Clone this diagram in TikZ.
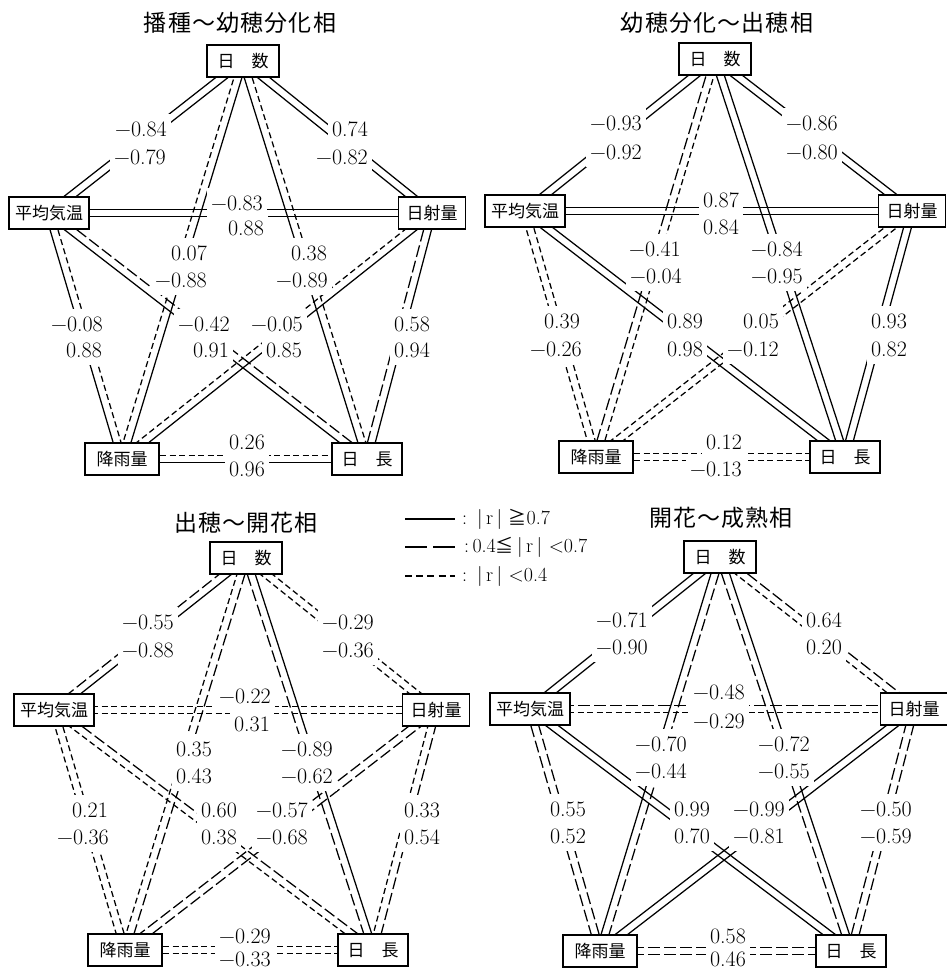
\documentclass[tikz,border=0pt]{standalone}
\usepackage{fontspec}
\newfontfamily\cjk{Noto Sans CJK JP}
\usetikzlibrary{calc}
\pgfdeclarelayer{bg}
\pgfdeclarelayer{lines}
\pgfsetlayers{bg,lines,main}
\newcommand\nf{\fontsize{22}{22}\selectfont\addfontfeatures{FakeStretch=0.86,FakeBold=0.4}}
\newcommand\lf{\fontsize{20}{20}\selectfont\addfontfeatures{FakeStretch=0.86,FakeBold=0.4}}
% double connector: #1 left node, #2 right node, #3 style of upper line, #4 style of lower line
\newcommand\pairln[4]{%
  \begin{pgfonlayer}{lines}
    \draw[#3] ($(#1)!3.8pt!90:(#2)$) -- ($(#2)!3.8pt!-90:(#1)$);
    \draw[#4] ($(#1)!3.8pt!-90:(#2)$) -- ($(#2)!3.8pt!90:(#1)$);
  \end{pgfonlayer}}
\tikzset{
  box/.style={draw, line width=1.5pt, fill=white, minimum height=32pt, inner xsep=0pt,
              font=\cjk\fontsize{17}{17}\selectfont},
  bN/.style={box, minimum width=72pt},
  bT/.style={box, minimum width=80pt},
  bS/.style={box, minimum width=67pt},
  bR/.style={box, minimum width=74pt},
  bL/.style={box, minimum width=70pt},
  lab/.style={fill=white, inner xsep=4.5pt, inner ysep=0pt, minimum height=30pt, font=\nf},
  ttl/.style={font=\cjk\fontsize{23}{23}\selectfont\addfontfeatures{LetterSpace=5}},
  c1/.style={line width=1.25pt},
  c2/.style={line width=1.25pt, dash pattern=on 12pt off 4pt},
  c3/.style={line width=1.25pt, dash pattern=on 6pt off 3.5pt},
  leg/.style={anchor=west, inner sep=0pt, font=\lf},
}
\begin{document}
\begin{tikzpicture}[x=1pt,y=-1pt]
\begin{pgfonlayer}{bg}
  \fill[white] (0,0) rectangle (947,969);
\end{pgfonlayer}
\useasboundingbox (0,0) rectangle (947,969);

% ================= Panel 1 =================
\node[ttl] (ttl1) at (240,23) {播種～幼穂分化相};
\node[bN] (N1) at (243,61) {日　数};
\node[bT] (T1) at (49,213) {平均気温};
\node[bS] (S1) at (432,213) {日射量};
\node[bR] (R1) at (122,459) {降雨量};
\node[bL] (L1) at (367,459) {日　長};
\pairln{T1}{N1}{c1}{c1}
\pairln{N1}{S1}{c1}{c1}
\pairln{T1}{S1}{c1}{c1}
\pairln{R1}{N1}{c3}{c1}
\pairln{N1}{L1}{c3}{c1}
\pairln{T1}{R1}{c3}{c1}
\pairln{L1}{S1}{c2}{c1}
\pairln{T1}{L1}{c2}{c1}
\pairln{R1}{S1}{c3}{c1}
\pairln{R1}{L1}{c3}{c1}
\node[lab] (p1a1) at (141,129) {−0.84};
\node[lab] (p1a2) at (140,157) {−0.79};
\node[lab] (p1b1) at (350,129) {0.74};
\node[lab] (p1b2) at (342,157) {−0.82};
\node[lab] (p1c1) at (237,203) {−0.83};
\node[lab] (p1c2) at (246,228) {0.88};
\node[lab] (p1d1) at (189,253) {0.07};
\node[lab] (p1d2) at (181,280) {−0.88};
\node[lab] (p1e1) at (309,253) {0.38};
\node[lab] (p1e2) at (302,280) {−0.89};
\node[lab] (p1f1) at (77,324) {−0.08};
\node[lab] (p1f2) at (84,350) {0.88};
\node[lab] (p1g1) at (412,324) {0.58};
\node[lab] (p1g2) at (412,350) {0.94};
\node[lab] (p1h1) at (204,324) {−0.42};
\node[lab] (p1h2) at (211,350) {0.91};
\node[lab] (p1i1) at (277,324) {−0.05};
\node[lab] (p1i2) at (284,350) {0.85};
\node[lab] (p1j1) at (247,442) {0.26};
\node[lab] (p1j2) at (247,469) {0.96};

% ================= Panel 2 =================
\node[ttl] (ttl2) at (717,23) {幼穂分化～出穂相};
\node[bN] (N2) at (715,59) {日　数};
\node[bT] (T2) at (525,211) {平均気温};
\node[bS] (S2) at (912,211) {日射量};
\node[bR] (R2) at (596,457) {降雨量};
\node[bL] (L2) at (845,457) {日　長};
\pairln{T2}{N2}{c1}{c1}
\pairln{N2}{S2}{c1}{c1}
\pairln{T2}{S2}{c1}{c1}
\pairln{R2}{N2}{c2}{c3}
\pairln{N2}{L2}{c1}{c1}
\pairln{T2}{R2}{c3}{c3}
\pairln{L2}{S2}{c1}{c1}
\pairln{T2}{L2}{c1}{c1}
\pairln{R2}{S2}{c3}{c3}
\pairln{R2}{L2}{c3}{c3}
\node[lab] (p2a1) at (616,123) {−0.93};
\node[lab] (p2a2) at (616,152) {−0.92};
\node[lab] (p2b1) at (812,123) {−0.86};
\node[lab] (p2b2) at (812,152) {−0.80};
\node[lab] (p2c1) at (721,200) {0.87};
\node[lab] (p2c2) at (721,227) {0.84};
\node[lab] (p2d1) at (655,249) {−0.41};
\node[lab] (p2d2) at (656,276) {−0.04};
\node[lab] (p2e1) at (777,249) {−0.84};
\node[lab] (p2e2) at (777,276) {−0.95};
\node[lab] (p2f1) at (562,321) {0.39};
\node[lab] (p2f2) at (556,349) {−0.26};
\node[lab] (p2g1) at (889,321) {0.93};
\node[lab] (p2g2) at (889,349) {0.82};
\node[lab] (p2h1) at (685,321) {0.89};
\node[lab] (p2h2) at (685,349) {0.98};
\node[lab] (p2i1) at (761,321) {0.05};
\node[lab] (p2i2) at (753,349) {−0.12};
\node[lab] (p2j1) at (724,442) {0.12};
\node[lab] (p2j2) at (716,469) {−0.13};

% ================= Panel 3 =================
\node[ttl] (ttl3) at (246,523) {出穂～開花相};
\node[bN] (N3) at (246,558) {日　数};
\node[bT] (T3) at (54,710) {平均気温};
\node[bS] (S3) at (436,710) {日射量};
\node[bR] (R3) at (125,950) {降雨量};
\node[bL] (L3) at (373,950) {日　長};
\pairln{T3}{N3}{c2}{c1}
\pairln{N3}{S3}{c3}{c3}
\pairln{T3}{S3}{c3}{c3}
\pairln{R3}{N3}{c3}{c2}
\pairln{N3}{L3}{c1}{c2}
\pairln{T3}{R3}{c3}{c3}
\pairln{L3}{S3}{c3}{c2}
\pairln{T3}{L3}{c2}{c3}
\pairln{R3}{S3}{c2}{c2}
\pairln{R3}{L3}{c3}{c3}
\node[lab] (p3a1) at (148,622) {−0.55};
\node[lab] (p3a2) at (148,650) {−0.88};
\node[lab] (p3b1) at (348,622) {−0.29};
\node[lab] (p3b2) at (348,650) {−0.36};
\node[lab] (p3c1) at (245,696) {−0.22};
\node[lab] (p3c2) at (252,724) {0.31};
\node[lab] (p3d1) at (194,749) {0.35};
\node[lab] (p3d2) at (194,776) {0.43};
\node[lab] (p3e1) at (307,749) {−0.89};
\node[lab] (p3e2) at (307,776) {−0.62};
\node[lab] (p3f1) at (90,810) {0.21};
\node[lab] (p3f2) at (83,837) {−0.36};
\node[lab] (p3g1) at (422,810) {0.33};
\node[lab] (p3g2) at (422,837) {0.54};
\node[lab] (p3h1) at (219,810) {0.60};
\node[lab] (p3h2) at (219,837) {0.38};
\node[lab] (p3i1) at (282,810) {−0.57};
\node[lab] (p3i2) at (282,837) {−0.68};
\node[lab] (p3j1) at (245,936) {−0.29};
\node[lab] (p3j2) at (245,959) {−0.33};

% ================= Panel 4 =================
\node[ttl] (ttl4) at (721,518) {開花～成熟相};
\node[bN] (N4) at (720,557) {日　数};
\node[bT] (T4) at (530,709) {平均気温};
\node[bS] (S4) at (914,709) {日射量};
\node[bR] (R4) at (600,951) {降雨量};
\node[bL] (L4) at (851,951) {日　長};
\pairln{T4}{N4}{c1}{c1}
\pairln{N4}{S4}{c2}{c3}
\pairln{T4}{S4}{c2}{c3}
\pairln{R4}{N4}{c1}{c2}
\pairln{N4}{L4}{c1}{c2}
\pairln{T4}{R4}{c2}{c2}
\pairln{L4}{S4}{c2}{c2}
\pairln{T4}{L4}{c1}{c1}
\pairln{R4}{S4}{c1}{c1}
\pairln{R4}{L4}{c2}{c2}
\node[lab] (p4a1) at (622,620) {−0.71};
\node[lab] (p4a2) at (622,647) {−0.90};
\node[lab] (p4b1) at (824,620) {0.64};
\node[lab] (p4b2) at (824,647) {0.20};
\node[lab] (p4c1) at (719,692) {−0.48};
\node[lab] (p4c2) at (719,721) {−0.29};
\node[lab] (p4d1) at (661,744) {−0.70};
\node[lab] (p4d2) at (661,771) {−0.44};
\node[lab] (p4e1) at (784,744) {−0.72};
\node[lab] (p4e2) at (784,771) {−0.55};
\node[lab] (p4f1) at (568,809) {0.55};
\node[lab] (p4f2) at (568,836) {0.52};
\node[lab] (p4g1) at (886,809) {−0.50};
\node[lab] (p4g2) at (886,836) {−0.59};
\node[lab] (p4h1) at (692,809) {0.99};
\node[lab] (p4h2) at (692,836) {0.70};
\node[lab] (p4i1) at (759,809) {−0.99};
\node[lab] (p4i2) at (759,836) {−0.81};
\node[lab] (p4j1) at (728,936) {0.58};
\node[lab] (p4j2) at (728,959) {0.46};

% ================= Legend =================
\coordinate (lg1a) at (405,519); \coordinate (lg1b) at (455,519);
\coordinate (lg2a) at (405,547); \coordinate (lg2b) at (455,547);
\coordinate (lg3a) at (405,576); \coordinate (lg3b) at (455,576);
\draw[line width=1.4pt] (lg1a) -- (lg1b);
\draw[line width=1.4pt, dash pattern=on 22pt off 6pt] (lg2a) -- (lg2b);
\draw[line width=1.4pt, dash pattern=on 7pt off 4.2pt] (lg3a) -- (lg3b);
\node[leg] (lgt1) at (462,519) {:\,\,\,|\,r\,|\,\,{\cjk\fontsize{18}{18}\selectfont ≧}0.7};
\node[leg] (lgt2) at (464,547) {:\,0.4{\cjk\fontsize{18}{18}\selectfont ≦}\,|\,r\,|\,\,<0.7};
\node[leg] (lgt3) at (462,576) {:\,\,\,|\,r\,|\,\,<0.4};
\end{tikzpicture}
\end{document}
